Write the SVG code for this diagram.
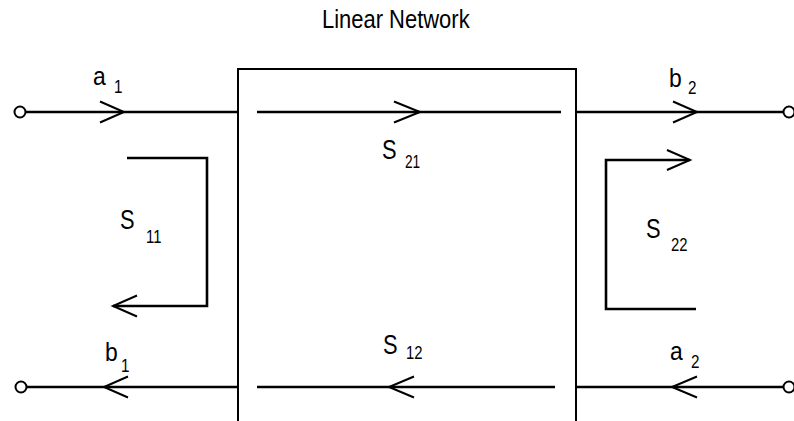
<svg xmlns="http://www.w3.org/2000/svg" width="794" height="421" viewBox="0 0 794 421">
<style>
.ln{stroke:#000;stroke-width:2.6;fill:none}
.bx{stroke:#000;stroke-width:2;fill:none}
.ch{stroke:#000;stroke-width:2;fill:none;stroke-linecap:butt}
.term{stroke:#000;stroke-width:2;fill:#fff}
text{font-family:"Liberation Sans",Arial,sans-serif;fill:#000}
.big{font-size:28px}
.ab{font-size:26px}
.sub{font-size:19px}
.ttl{font-size:26px}
</style>
<rect width="794" height="421" fill="#fff"/>
<g id="network">
<path class="bx" d="M238,421 V69 H576 V421"/>
<text class="ttl" transform="translate(322,28) scale(0.845,1)">Linear Network</text>
</g>
<g id="connectors">
<path class="ln" d="M26,112 H238"/>
<path class="ln" d="M576,112 H783"/>
<path class="ln" d="M257,112 H561"/>
<path class="ln" d="M27,387 H239"/>
<path class="ln" d="M576,387 H783"/>
<path class="ln" d="M257,387 H555"/>
<path class="ln" d="M127,158 H207 V306 H113"/>
<path class="ln" d="M690,160 H606 V309 H696"/>
<path class="ch" d="M100,101.5 L124,112 L100,122.5"/>
<path class="ch" d="M394,101.5 L420,112 L394,122.5"/>
<path class="ch" d="M673,101.5 L697,112 L673,122.5"/>
<path class="ch" d="M137,295.5 L113,306 L137,316.5"/>
<path class="ch" d="M667,150 L690,160 L667,170"/>
<path class="ch" d="M128,376.5 L104,387 L128,397.5"/>
<path class="ch" d="M414,376.5 L389,387 L414,397.5"/>
<path class="ch" d="M697,376.5 L672,387 L697,397.5"/>
</g>
<g id="port1-in">
<circle class="term" cx="20" cy="112" r="5.5"/>
<text class="ab" transform="translate(93,84.5) scale(0.88,1)">a</text>
<text class="sub" transform="translate(114,92.5) scale(0.8,1)">1</text>
</g>
<g id="port1-out">
<circle class="term" cx="21" cy="387" r="5.5"/>
<text class="ab" transform="translate(105,360.5) scale(0.88,1)">b</text>
<text class="sub" transform="translate(121,371.5) scale(0.8,1)">1</text>
</g>
<g id="port2-out">
<circle class="term" cx="789" cy="112" r="5.5"/>
<text class="ab" transform="translate(669,86.5) scale(0.88,1)">b</text>
<text class="sub" transform="translate(688,93.5) scale(0.8,1)">2</text>
</g>
<g id="port2-in">
<circle class="term" cx="789" cy="387" r="5.5"/>
<text class="ab" transform="translate(670,359.5) scale(0.88,1)">a</text>
<text class="sub" transform="translate(691,367.5) scale(0.8,1)">2</text>
</g>
<g id="s21">
<text class="big" transform="translate(382,158.5) scale(0.78,1)">S</text>
<text class="sub" transform="translate(405,167.5) scale(0.72,1)">21</text>
</g>
<g id="s11">
<text class="big" transform="translate(120,228.5) scale(0.78,1)">S</text>
<text class="sub" transform="translate(146,242.5) scale(0.78,1)">11</text>
</g>
<g id="s12">
<text class="big" transform="translate(383,353.5) scale(0.78,1)">S</text>
<text class="sub" transform="translate(406,358.5) scale(0.78,1)">12</text>
</g>
<g id="s22">
<text class="big" transform="translate(646,237.5) scale(0.78,1)">S</text>
<text class="sub" transform="translate(671,250.5) scale(0.78,1)">22</text>
</g>
</svg>
